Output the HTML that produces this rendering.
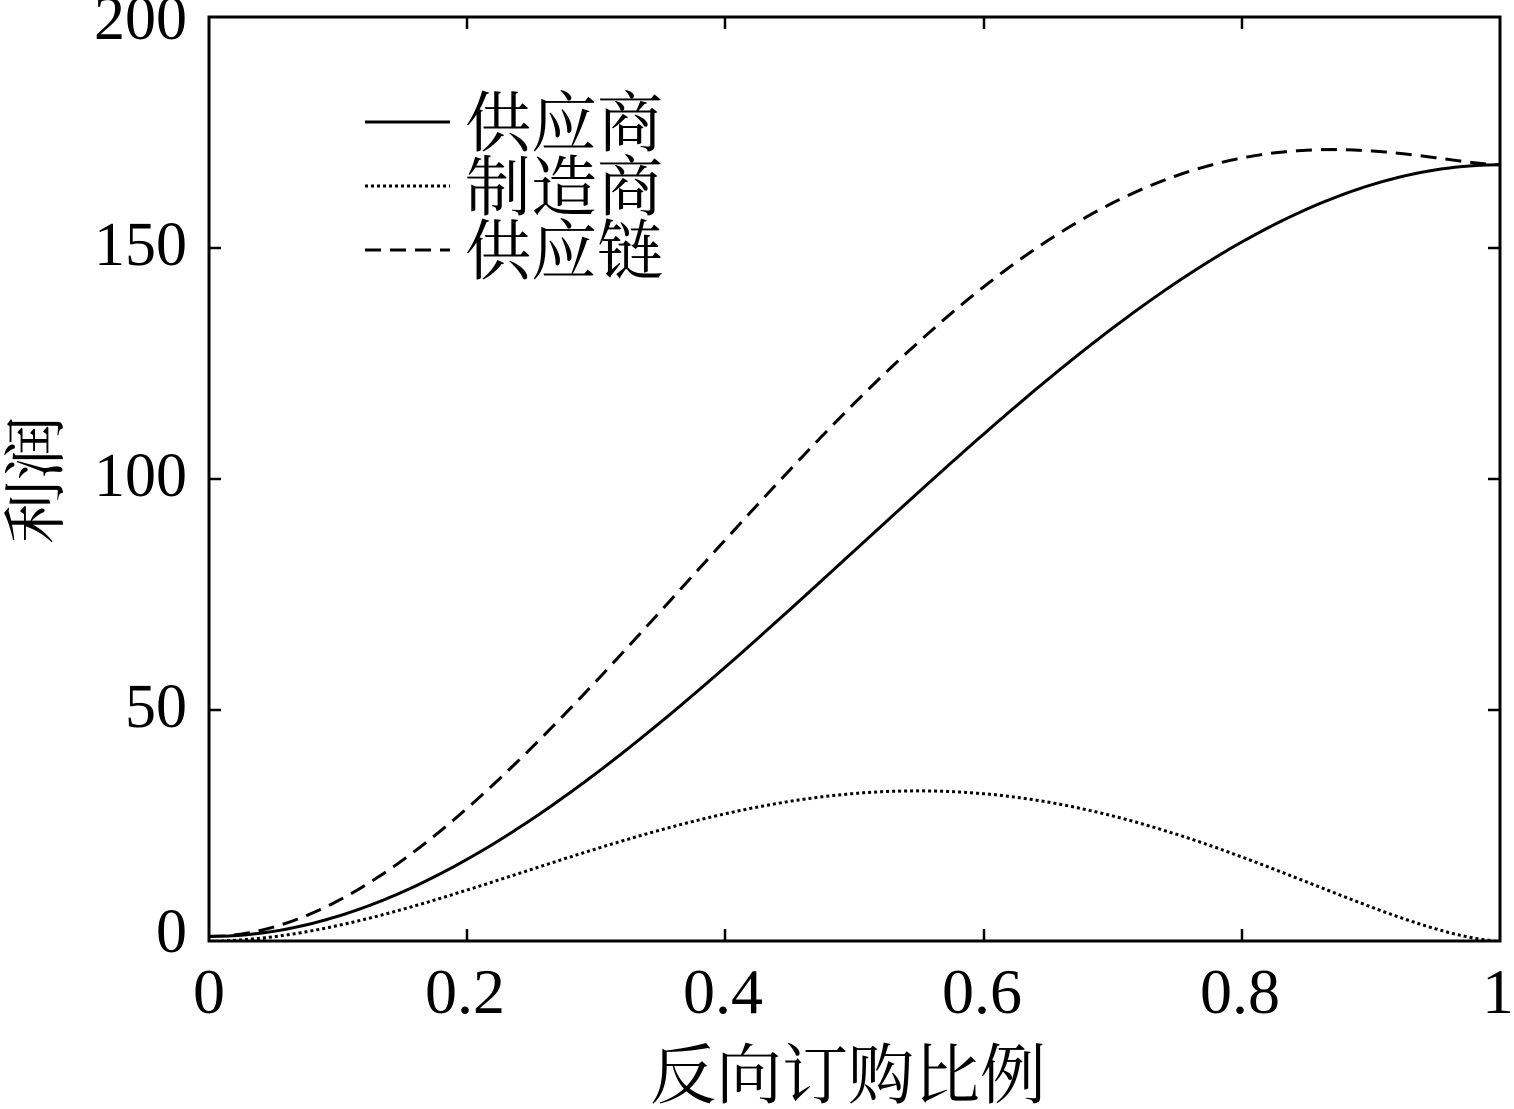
<!DOCTYPE html>
<html><head><meta charset="utf-8">
<style>html,body{margin:0;padding:0;background:#fff}svg{display:block}</style>
</head><body>
<svg id="s" width="1514" height="1109" xmlns="http://www.w3.org/2000/svg" font-family="'Liberation Serif','Noto Serif CJK SC',serif">
<rect x="209" y="17" width="1291" height="924" fill="none" stroke="#000" stroke-width="3"/>
<g stroke="#000" stroke-width="2.5">
<line x1="467" y1="941" x2="467" y2="929"/><line x1="725" y1="941" x2="725" y2="929"/><line x1="984" y1="941" x2="984" y2="929"/><line x1="1242" y1="941" x2="1242" y2="929"/>
<line x1="467" y1="17" x2="467" y2="29"/><line x1="725" y1="17" x2="725" y2="29"/><line x1="984" y1="17" x2="984" y2="29"/><line x1="1242" y1="17" x2="1242" y2="29"/>
<line x1="209" y1="710" x2="221" y2="710"/><line x1="209" y1="479" x2="221" y2="479"/><line x1="209" y1="248" x2="221" y2="248"/>
<line x1="1500" y1="710" x2="1488" y2="710"/><line x1="1500" y1="479" x2="1488" y2="479"/><line x1="1500" y1="248" x2="1488" y2="248"/>
</g>
<g font-size="62" text-anchor="end">
<text x="187" y="952">0</text><text x="187" y="727">50</text><text x="187" y="496">100</text><text x="187" y="265">150</text><text x="187" y="39">200</text>
</g>
<g font-size="64" text-anchor="middle">
<text x="209" y="1013">0</text><text x="465" y="1013">0.2</text><text x="723" y="1013">0.4</text><text x="982" y="1013">0.6</text><text x="1240" y="1013">0.8</text><text x="1498" y="1013">1</text>
</g>
<text x="848" y="1098" font-size="66" text-anchor="middle">反向订购比例</text>
<text transform="translate(58,480) rotate(-90)" font-size="64" text-anchor="middle">利润</text>
<g stroke="#000" stroke-width="3" fill="none">
<path id="p1"/><path id="p2" stroke-dasharray="3,3"/><path id="p3" stroke-dasharray="16,9"/>
<line x1="365" y1="122" x2="450" y2="122"/>
<line x1="365" y1="186" x2="450" y2="186" stroke-dasharray="3,3"/>
<line x1="365" y1="250" x2="450" y2="250" stroke-dasharray="16,9"/>
</g>
<g font-size="66">
<text x="465" y="146">供应商</text><text x="465" y="210">制造商</text><text x="465" y="274">供应链</text>
</g>
</svg>
<script>
function S(t){var a=3*t*t-2*t*t*t;var b=0.5-0.5*Math.cos(Math.PI*t);return 168*(0.6*a+0.4*b)+1*(1-t);}
function M(t){return 398*t*t*Math.pow(1-t,1.64);}
function X(t){return 209+1291*t;}function Y(v){return 941-v*4.62;}
var a=[],b=[],c=[];
for(var i=0;i<=200;i++){var t=i/200;var s=S(t),m=M(t);
a.push((i?'L':'M')+X(t).toFixed(1)+' '+Y(s).toFixed(1));
b.push((i?'L':'M')+X(t).toFixed(1)+' '+Y(m).toFixed(1));
c.push((i?'L':'M')+X(t).toFixed(1)+' '+Y(s+m).toFixed(1));}
document.getElementById('p1').setAttribute('d',a.join(''));
document.getElementById('p2').setAttribute('d',b.join(''));
document.getElementById('p3').setAttribute('d',c.join(''));
</script>
</body></html>
